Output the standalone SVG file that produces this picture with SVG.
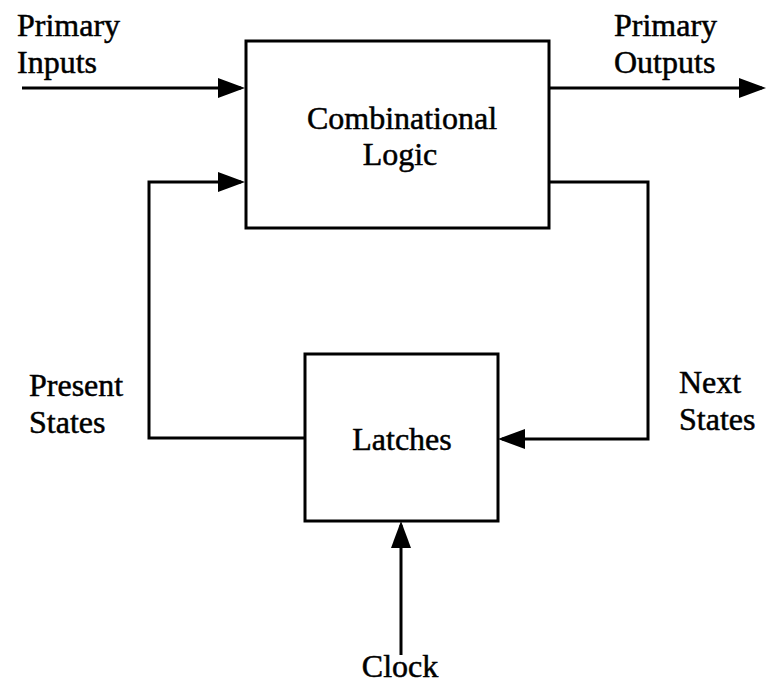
<svg xmlns="http://www.w3.org/2000/svg" width="767" height="686" viewBox="0 0 767 686">
  <style>
    .box { fill: #ffffff; stroke: #000000; stroke-width: 3; }
    .wire { fill: none; stroke: #000000; stroke-width: 3; stroke-linejoin: miter; }
    .lbl { font-family: "Liberation Serif", "Times New Roman", serif; font-size: 32px; fill: #000000; stroke: #000000; stroke-width: 0.5; }
    .mid { text-anchor: middle; }
  </style>
  <defs>
    <marker id="arrow" markerUnits="userSpaceOnUse" markerWidth="28" markerHeight="22" refX="23" refY="10" orient="auto">
      <path d="M0,0 L27,10 L0,20 Z" fill="#000000"/>
    </marker>
  </defs>

  <rect width="767" height="686" fill="#ffffff"/>

  <!-- connectors -->
  <g id="connectors">
    <path id="primary-inputs" class="wire" d="M22,88 H241" marker-end="url(#arrow)"/>
    <path id="present-states" class="wire" d="M305,438 H149 V182 H241" marker-end="url(#arrow)"/>
    <path id="primary-outputs" class="wire" d="M549,88 H762" marker-end="url(#arrow)"/>
    <path id="next-states" class="wire" d="M549,182 H648 V439 H502" marker-end="url(#arrow)"/>
    <path id="clock" class="wire" d="M401,655 V525" marker-end="url(#arrow)"/>
  </g>

  <!-- combinational logic block -->
  <g id="combinational-logic">
    <rect class="box" x="246" y="41" width="303" height="187"/>
    <text class="lbl mid" x="402" y="129">Combinational</text>
    <text class="lbl mid" x="400" y="165">Logic</text>
  </g>

  <!-- latches block -->
  <g id="latches">
    <rect class="box" x="305" y="354" width="193" height="167"/>
    <text class="lbl mid" x="402" y="450">Latches</text>
  </g>

  <!-- signal labels -->
  <g id="label-primary-inputs">
    <text class="lbl" x="17" y="36">Primary</text>
    <text class="lbl" x="17" y="73">Inputs</text>
  </g>
  <g id="label-primary-outputs">
    <text class="lbl" x="614" y="36">Primary</text>
    <text class="lbl" x="614" y="73">Outputs</text>
  </g>
  <g id="label-present-states">
    <text class="lbl" x="29" y="396">Present</text>
    <text class="lbl" x="29" y="433">States</text>
  </g>
  <g id="label-next-states">
    <text class="lbl" x="679" y="393">Next</text>
    <text class="lbl" x="679" y="430">States</text>
  </g>
  <g id="label-clock">
    <text class="lbl mid" x="400" y="677">Clock</text>
  </g>
</svg>
